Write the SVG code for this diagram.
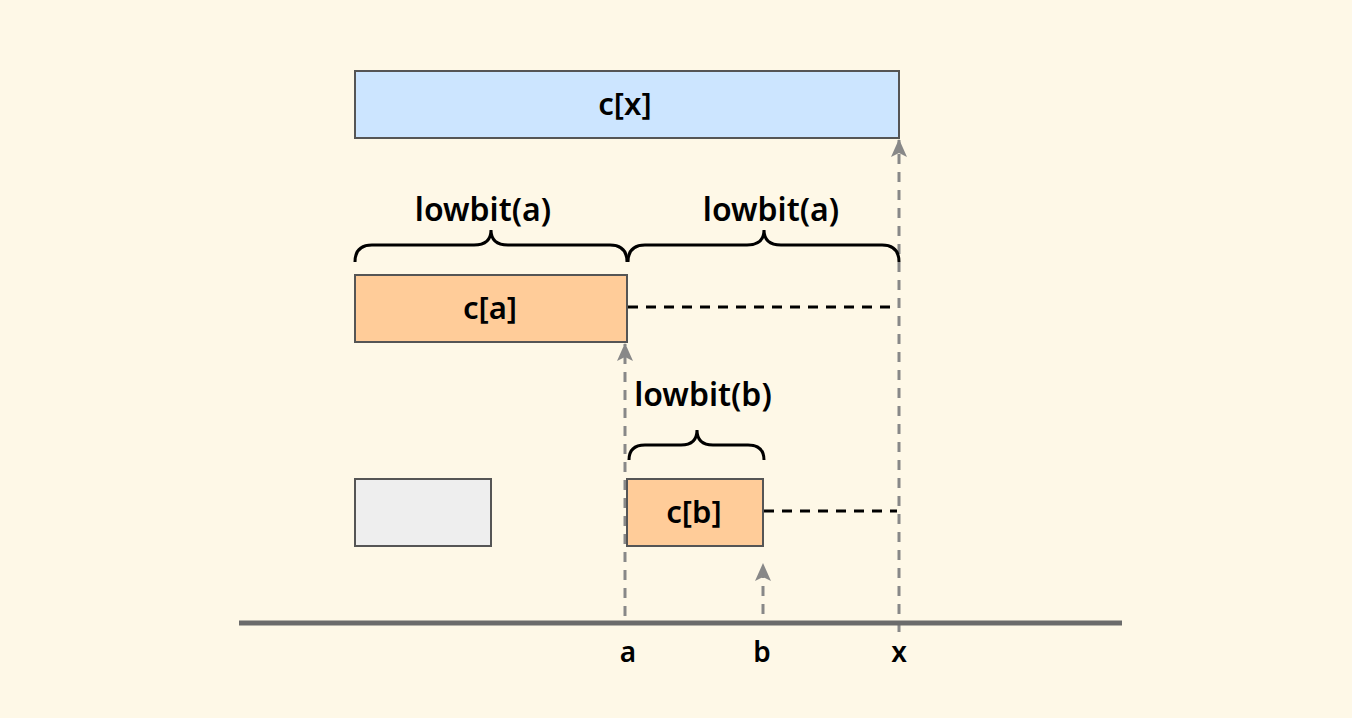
<svg xmlns="http://www.w3.org/2000/svg" width="1352" height="718" viewBox="0 0 1352 718">
<style>
.t{font-family:"Noto Sans","Liberation Sans",sans-serif;font-weight:600;fill:#000;text-anchor:middle}
.node{stroke:#555;stroke-width:2}
.brace{fill:none;stroke:#000;stroke-width:3;stroke-linecap:butt}
.gd{fill:none;stroke:#888;stroke-width:3;stroke-dasharray:10 8}
.bd{fill:none;stroke:#000;stroke-width:3;stroke-dasharray:10 8}
</style>
<defs>
<marker id="ah" viewBox="0 0 18 16" refX="17" refY="8" markerWidth="18" markerHeight="16" markerUnits="userSpaceOnUse" orient="auto">
<path d="M0,0 L18,8 L0,16 L4,8 Z" fill="#888"/>
</marker>
</defs>
<rect width="1352" height="718" fill="#fef8e7"/>
<g id="connectors">
<path class="gd" d="M625,616 V344" marker-end="url(#ah)"/>
<path class="gd" d="M899,632 V140" marker-end="url(#ah)"/>
<path class="gd" d="M763,614 V564" marker-end="url(#ah)"/>
<path class="bd" d="M628,307 H897"/>
<path class="bd" d="M764,511 H897"/>
</g>
<g id="axis">
<line x1="239" y1="623" x2="1122" y2="623" stroke="#6b6b6b" stroke-width="5"/>
<text class="t" x="628" y="662" font-size="28">a</text>
<text class="t" x="762" y="662" font-size="28">b</text>
<text class="t" x="899" y="662" font-size="28">x</text>
</g>
<g id="cx">
<rect class="node" x="355" y="71" width="544" height="67" fill="#cce5ff"/>
<text class="t" x="625" y="115" font-size="31">c[x]</text>
</g>
<g id="brace-a1">
<path class="brace" d="M355,262 Q355,245 372,245 H474 Q491,245 491,230 Q491,245 508,245 H610 Q627,245 627,262"/>
<text class="t" x="483" y="221" font-size="32">lowbit(a)</text>
</g>
<g id="brace-a2">
<path class="brace" d="M628,262 Q628,245 645,245 H747 Q764,245 764,230 Q764,245 781,245 H882 Q899,245 899,262"/>
<text class="t" x="771" y="221" font-size="32">lowbit(a)</text>
</g>
<g id="ca">
<rect class="node" x="355" y="275" width="272" height="67" fill="#ffcc99"/>
<text class="t" x="490" y="319" font-size="31">c[a]</text>
</g>
<g id="brace-b">
<path class="brace" d="M629,460 Q629,445 645,445 H681 Q697,445 697,430 Q697,445 713,445 H748 Q764,445 764,460"/>
<text class="t" x="703" y="406" font-size="32">lowbit(b)</text>
</g>
<g id="grey">
<rect class="node" x="355" y="479" width="136" height="67" fill="#eeeeee"/>
</g>
<g id="cb">
<rect class="node" x="627" y="479" width="136" height="67" fill="#ffcc99"/>
<text class="t" x="694" y="523" font-size="31">c[b]</text>
</g>
</svg>
